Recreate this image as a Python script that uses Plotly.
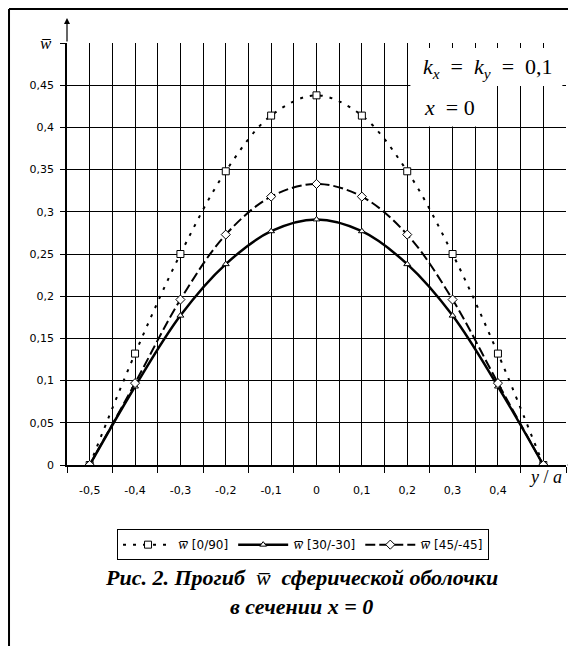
import plotly.graph_objects as go

# ---- data ----
y_a = [-0.5, -0.4, -0.3, -0.2, -0.1, 0.0, 0.1, 0.2, 0.3, 0.4, 0.5]
w_0_90 = [0.0, 0.132, 0.250, 0.348, 0.414, 0.438, 0.414, 0.348, 0.250, 0.132, 0.0]
w_30_30 = [0.0, 0.093, 0.177, 0.238, 0.277, 0.291, 0.277, 0.238, 0.177, 0.093, 0.0]
w_45_45 = [0.0, 0.097, 0.196, 0.273, 0.318, 0.333, 0.318, 0.273, 0.196, 0.097, 0.0]

x_tickvals = [-0.5, -0.4, -0.3, -0.2, -0.1, 0.0, 0.1, 0.2, 0.3, 0.4, 0.5]
x_ticktext = ["-0,5", "-0,4", "-0,3", "-0,2", "-0,1", "0", "0,1", "0,2", "0,3", "0,4", ""]
x_minor = [-0.55, -0.45, -0.35, -0.25, -0.15, -0.05, 0.05, 0.15, 0.25, 0.35, 0.45, 0.55]
y_tickvals = [0, 0.05, 0.1, 0.15, 0.2, 0.25, 0.3, 0.35, 0.4, 0.45, 0.5]
y_ticktext = ["0", "0,05", "0,1", "0,15", "0,2", "0,25", "0,3", "0,35", "0,4", "0,45", ""]

WBAR = "<span style='font-family:Liberation Serif;font-size:15px'><i>w\u0305</i></span>"
names = [WBAR + " [0/90]", WBAR + " [30/-30]", WBAR + " [45/-45]"]

TICKFONT = dict(family="DejaVu Sans", size=11, color="black")
SERIF = "Liberation Serif"

fig = go.Figure()
fig.add_trace(go.Scatter(
    x=y_a, y=w_0_90, name=names[0], mode="lines+markers",
    line=dict(color="black", width=2, dash="3px,7px", shape="spline", smoothing=1.0),
    marker=dict(symbol="square", size=7, color="white", line=dict(color="black", width=1)),
))
fig.add_trace(go.Scatter(
    x=y_a, y=w_30_30, name=names[1], mode="lines+markers",
    line=dict(color="black", width=2.5, shape="spline", smoothing=1.0),
    marker=dict(symbol="triangle-up", size=6, color="white", line=dict(color="black", width=1)),
))
fig.add_trace(go.Scatter(
    x=y_a, y=w_45_45, name=names[2], mode="lines+markers",
    line=dict(color="black", width=2, dash="10px,4px", shape="spline", smoothing=1.0),
    marker=dict(symbol="diamond", size=7, color="white", line=dict(color="black", width=1)),
))

fig.update_layout(
    width=568, height=638,
    margin=dict(l=59, r=10, t=35, b=181),
    paper_bgcolor="white", plot_bgcolor="white",
    showlegend=True,
    legend=dict(
        orientation="h", x=0.473, xanchor="center", y=-0.152, yanchor="top",
        bordercolor="black", borderwidth=1, bgcolor="white",
        font=dict(family="DejaVu Sans", size=12, color="black"),
        itemwidth=50, tracegroupgap=0,
    ),
    xaxis=dict(
        range=[-0.55, 0.55], tickmode="array", tickvals=x_tickvals, ticktext=x_ticktext,
        ticks="", showgrid=True, gridcolor="black", gridwidth=1.3,
        showline=True, linecolor="black", linewidth=1.5, mirror=False,
        zeroline=False, tickfont=TICKFONT, ticklabelstandoff=14,
        minor=dict(tickvals=x_minor, ticks="outside", ticklen=6, tickcolor="black",
                   tickwidth=1.3, showgrid=True, gridcolor="black", gridwidth=1.3),
    ),
    yaxis=dict(
        range=[0, 0.5], tickmode="array", tickvals=y_tickvals, ticktext=y_ticktext,
        ticks="outside", ticklen=5, tickcolor="black", tickwidth=1.3,
        showgrid=True, gridcolor="black", gridwidth=1.3,
        showline=True, linecolor="black", linewidth=1.5,
        zeroline=False, tickfont=TICKFONT, ticklabelstandoff=4,
    ),
)

# white boxes behind parameter text
fig.add_shape(type="rect", xref="x", yref="y", x0=0.207, x1=0.542, y0=0.449, y1=0.494,
              fillcolor="white", line=dict(width=0), layer="above")
fig.add_shape(type="rect", xref="x", yref="y", x0=0.207, x1=0.392, y0=0.401, y1=0.449,
              fillcolor="white", line=dict(width=0), layer="above")

fig.add_annotation(xref="x", yref="y", x=0.378, y=0.4705, showarrow=False,
                   text="<i>k</i><sub><i>x</i></sub>&nbsp; = &nbsp;<i>k</i><sub><i>y</i></sub>&nbsp; = &nbsp;0,1",
                   font=dict(family=SERIF, size=22, color="black"))
fig.add_annotation(xref="x", yref="y", x=0.232, y=0.4235, showarrow=False, xanchor="left",
                   text="<i>x</i>&nbsp; = 0", font=dict(family=SERIF, size=22, color="black"))

# axis labels
fig.add_annotation(xref="paper", yref="y", x=-0.058, y=0.5, showarrow=False,
                   text="<i>w\u0305</i>", font=dict(family=SERIF, size=17, color="black"))
fig.add_annotation(xref="x", yref="paper", x=0.505, y=-0.058, showarrow=False,
                   text="<i>y</i> / <i>a</i>", font=dict(family=SERIF, size=18, color="black"))

# axis arrows
fig.add_annotation(xref="x", yref="paper", x=-0.55, y=1.059, ax=0, ay=25, text="",
                   showarrow=True, arrowhead=2, arrowsize=1, arrowwidth=1.2, arrowcolor="black")
fig.add_annotation(xref="paper", yref="y", x=1.018, y=0, ax=-9, ay=0, text="",
                   showarrow=True, arrowhead=2, arrowsize=1, arrowwidth=1.2, arrowcolor="black")

# caption
fig.add_annotation(xref="paper", yref="paper", x=0.47, y=-0.30, showarrow=False,
                   text="<b><i>Рис. 2. Прогиб </i></b> <i>w\u0305</i> <b><i> сферической оболочки</i></b>",
                   font=dict(family=SERIF, size=22, color="black"))
fig.add_annotation(xref="paper", yref="paper", x=0.47, y=-0.37, showarrow=False,
                   text="<b><i>в сечении x = 0</i></b>",
                   font=dict(family=SERIF, size=22, color="black"))

# outer frame (top and left)
fig.add_shape(type="line", xref="paper", yref="paper", x0=-0.1162, x1=1.03, y0=1.0806, y1=1.0806,
              line=dict(color="black", width=2))
fig.add_shape(type="line", xref="paper", yref="paper", x0=-0.1162, x1=-0.1162, y0=1.0806, y1=-0.45,
              line=dict(color="black", width=2))

fig.write_html("out.html")
